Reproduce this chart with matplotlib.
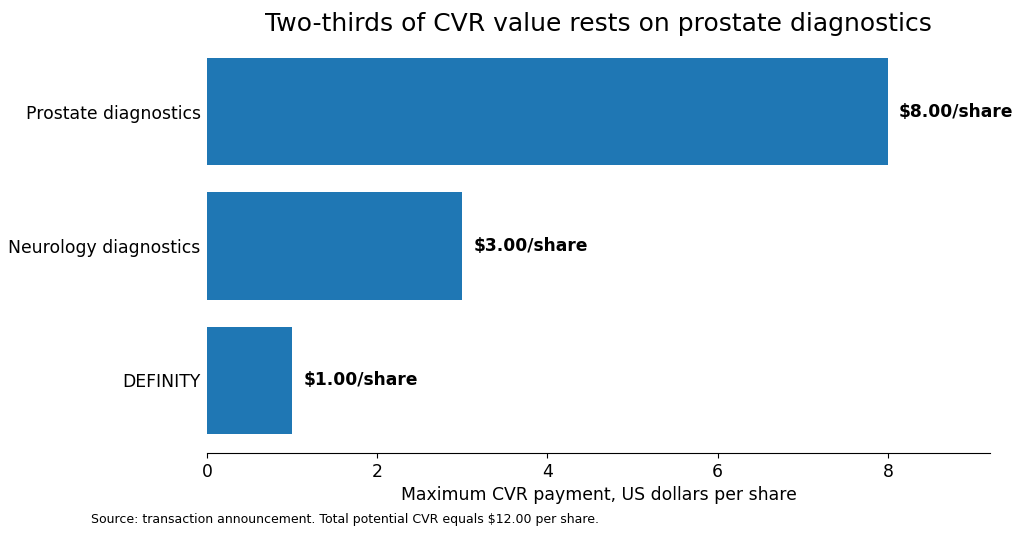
import matplotlib
matplotlib.use('Agg')
import matplotlib.pyplot as plt
import numpy as np

categories = ['Prostate diagnostics', 'Neurology diagnostics', 'DEFINITY']
values = [8.0, 3.0, 1.0]
bar_labels = ['$8.00/share', '$3.00/share', '$1.00/share']

fig = plt.figure(figsize=(10.24, 5.38), dpi=100)
ax = fig.add_axes([207/1024, 1-453/538, (990-207)/1024, (453-39)/538])

y = np.arange(len(categories))[::-1]
ax.barh(y, values, height=0.8, color='#1f77b4')
for yi, v, lab in zip(y, values, bar_labels):
    ax.text(v + 0.13, yi, lab.replace('$', r'\$'), va='center', ha='left',
            fontsize=12.3, fontweight='bold')

ax.set_yticks(y)
ax.set_yticklabels(categories, fontsize=12.4)
ax.tick_params(axis='y', length=0, pad=4.5)
ax.tick_params(axis='x', labelsize=12.4)
ax.set_xlim(0, 9.2)
ax.set_xticks([0, 2, 4, 6, 8])
for s in ['top', 'right', 'left']:
    ax.spines[s].set_visible(False)
ax.set_xlabel('Maximum CVR payment, US dollars per share', fontsize=12.4)
ax.set_title('Two-thirds of CVR value rests on prostate diagnostics', fontsize=18, pad=6)
fig.text(91/1024, 1-520/538, 'Source: transaction announcement. Total potential CVR equals $12.00 per share.',
         fontsize=9, va='center', ha='left')

fig.savefig('out.png', dpi=100)
